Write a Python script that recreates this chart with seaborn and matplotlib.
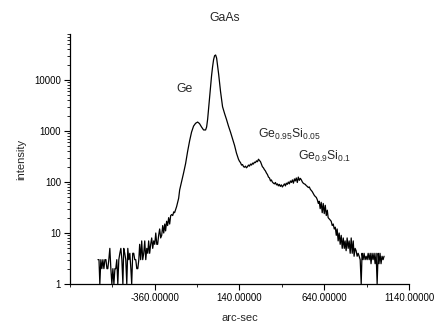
import matplotlib
matplotlib.use("Agg")
import matplotlib.pyplot as plt
import matplotlib.ticker as mticker
import seaborn as sns
import pandas as pd

# ---- data ----
arcsec = [
    -695, -689, -684, -678, -672, -666, -660, -654, -648, -642, -637, -631, -625, -619, -613,
    -607, -601, -595, -590, -584, -578, -572, -566, -560, -554, -548, -543, -537, -531, -525,
    -519, -513, -507, -501, -496, -490, -484, -478, -472, -466, -460, -454, -449, -443, -437,
    -431, -425, -419, -413, -407, -401, -396, -390, -384, -378, -372, -366, -360, -354, -348,
    -343, -337, -331, -325, -319, -313, -307, -301, -296, -290, -284, -278, -272, -266, -260,
    -254, -248, -243, -231, -225, -219, -213, -202, -190, -178, -166, -154, -143, -131, -119,
    -107, -96, -84, -72, -60, -54, -48, -43, -37, -31, -25, -19, -13, -7, -1,
    5, 11, 17, 22, 28, 34, 40, 52, 63, 75, 87, 99, 105, 111, 117,
    122, 128, 134, 140, 146, 152, 158, 164, 169, 175, 181, 187, 193, 199, 205,
    211, 217, 222, 228, 234, 240, 246, 252, 258, 264, 270, 275, 281, 287, 293,
    299, 305, 311, 317, 323, 328, 334, 340, 346, 352, 358, 364, 369, 375, 381,
    387, 393, 399, 405, 411, 416, 422, 428, 434, 440, 446, 452, 458, 464, 469,
    475, 481, 487, 493, 499, 505, 511, 516, 522, 528, 534, 540, 546, 552, 558,
    564, 569, 575, 581, 587, 593, 599, 605, 610, 616, 622, 628, 634, 640, 646,
    652, 658, 663, 669, 675, 681, 687, 693, 699, 705, 711, 716, 722, 728, 734,
    740, 746, 752, 758, 763, 769, 775, 781, 787, 793, 799, 805, 811, 816, 822,
    828, 834, 840, 846, 852, 858, 863, 869, 875, 881, 887, 893, 899, 905, 911,
    916, 922, 928, 934, 940, 946, 952, 958, 963, 969, 975, 981, 987, 993,
]
intensity = [
    3, 3, 1, 3, 2, 3, 2, 3, 3, 2, 2, 3, 5, 2, 1,
    2, 1, 2, 2, 3, 1, 3, 4, 5, 3, 1, 5, 4, 3, 1,
    5, 3, 4, 2, 1, 4, 4, 3, 3, 2, 2, 3, 6, 3, 7,
    3, 4, 7, 3, 5, 4, 7, 4, 6, 8, 5, 7, 6, 10, 6,
    6, 9, 12, 8, 9, 14, 10, 15, 11, 17, 14, 20, 15, 22, 23,
    22, 26, 25, 33, 40, 48, 70, 100, 150, 230, 400, 650, 950, 1250, 1420,
    1500, 1400, 1200, 1050, 1050, 1200, 1700, 2600, 4500, 7500, 12000, 18000, 25000, 30000, 31000,
    27000, 19000, 13000, 9000, 6000, 4200, 3000, 2200, 1700, 1250, 950, 700, 600, 520, 430,
    370, 320, 280, 255, 240, 215, 220, 200, 195, 205, 190, 200, 215, 205, 225,
    215, 235, 225, 245, 240, 260, 250, 280, 265, 250, 220, 200, 190, 175, 165,
    150, 140, 125, 120, 105, 110, 100, 95, 92, 98, 88, 92, 84, 90, 82,
    88, 80, 86, 92, 84, 95, 90, 100, 92, 105, 98, 110, 95, 115, 105,
    120, 98, 125, 108, 118, 110, 100, 95, 92, 90, 85, 82, 78, 80, 72,
    68, 65, 60, 55, 52, 50, 45, 38, 42, 30, 40, 25, 38, 24, 35,
    22, 28, 20, 19, 18, 17, 14, 15, 12, 13, 9, 12, 7, 10, 6,
    9, 5, 8, 5, 7, 4.5, 8, 5, 7, 4, 8, 4, 7, 3.5, 5,
    4.5, 3.5, 4, 3.5, 3, 1, 4, 3, 4, 3, 3.5, 3, 4, 3, 4,
    2.5, 4, 3, 4, 2.5, 4, 1, 4, 2.5, 4, 2.5, 3.5, 3, 3.5,
]
xticks_major = [-360, 140, 640, 1140]
xticks_minor = [-860, -610, -110, 390, 890]
yticks_major = [1, 10, 100, 1000, 10000]
peak_labels = ["GaAs", "Ge", r"Ge$_{0.95}$Si$_{0.05}$", r"Ge$_{0.9}$Si$_{0.1}$"]

df = pd.DataFrame({"arc-sec": arcsec, "intensity": intensity})

sns.set_style("ticks")
plt.rcParams["font.family"] = ["Liberation Sans", "DejaVu Sans"]
plt.rcParams["mathtext.fontset"] = "custom"
plt.rcParams["mathtext.rm"] = "Liberation Sans"
plt.rcParams["mathtext.it"] = "Liberation Sans"

fig = plt.figure(figsize=(4.35, 3.23), dpi=100)
ax = fig.add_axes([70 / 435, 1 - 284 / 323, 339 / 435, 250 / 323])

sns.lineplot(data=df, x="arc-sec", y="intensity", ax=ax, color="black",
             linewidth=0.9, estimator=None, sort=False)

ax.set_yscale("log")
ax.set_xlim(-860, 1140)
ax.set_ylim(1, 80000)

ax.set_xticks(xticks_major)
ax.set_xticks(xticks_minor, minor=True)
ax.set_xticklabels([f"{v:.5f}" for v in xticks_major])
ax.set_yticks(yticks_major)
ax.set_yticklabels([str(v) for v in yticks_major])
ax.yaxis.set_minor_locator(mticker.LogLocator(base=10, subs=range(2, 10), numticks=20))
ax.yaxis.set_minor_formatter(mticker.NullFormatter())

ax.tick_params(axis="both", which="major", direction="out", length=4.5, width=0.8,
               labelsize=6.9, colors="black", pad=2)
ax.tick_params(axis="both", which="minor", direction="out", length=2.5, width=0.7)

for s in ["top", "right"]:
    ax.spines[s].set_visible(False)
for s in ["left", "bottom"]:
    ax.spines[s].set_linewidth(0.9)
    ax.spines[s].set_color("black")

ax.set_xlabel("arc-sec", fontsize=8, labelpad=7)
ax.set_ylabel("intensity", fontsize=8, labelpad=6)

fig.text(225 / 435, 1 - 18 / 323, peak_labels[0], fontsize=8.8, ha="center", va="center")
fig.text(185 / 435, 1 - 89 / 323, peak_labels[1], fontsize=8.8, ha="center", va="center")
fig.text(258 / 435, 1 - 134 / 323, peak_labels[2], fontsize=8.8, ha="left", va="center")
fig.text(298 / 435, 1 - 156 / 323, peak_labels[3], fontsize=8.8, ha="left", va="center")

fig.savefig("out.png", dpi=100)
